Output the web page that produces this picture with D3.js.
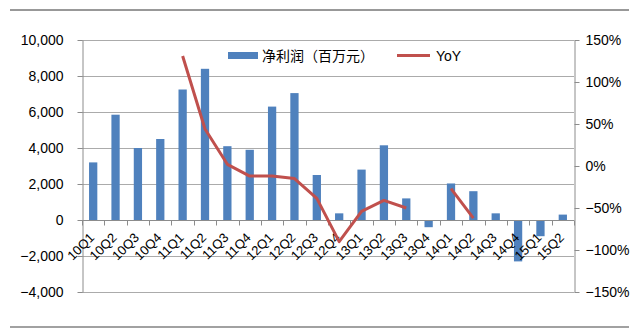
<!DOCTYPE html>
<html>
<head>
<meta charset="utf-8">
<script src="https://cdn.jsdelivr.net/npm/d3@7"></script>
<style>
  html, body { margin: 0; padding: 0; background: #fff; }
  svg { display: block; font-family: "Liberation Sans", Arial, sans-serif; }
</style>
</head>
<body>
<svg id="chart" width="631" height="334"></svg>
<script>
// Quarterly net profit (million yuan) and year-on-year growth
const quarters = ["10Q1","10Q2","10Q3","10Q4","11Q1","11Q2","11Q3","11Q4",
                  "12Q1","12Q2","12Q3","12Q4","13Q1","13Q2","13Q3","13Q4",
                  "14Q1","14Q2","14Q3","14Q4","15Q1","15Q2"];
const netProfit = [3200, 5850, 4000, 4500, 7250, 8400, 4100, 3900,
                   6300, 7050, 2500, 370, 2800, 4150, 1200, -400,
                   2030, 1600, 370, -2300, -900, 300];
const yoy = [null, null, null, null, 1.31, 0.44, 0.02, -0.12,
             -0.12, -0.15, -0.385, -0.90, -0.54, -0.41, -0.50, null,
             -0.27, -0.62, null, null, null, null];
const leftTicks = [-4000, -2000, 0, 2000, 4000, 6000, 8000, 10000];
const rightTicks = [-1.5, -1.0, -0.5, 0, 0.5, 1.0, 1.5];
const legendLabels = ["净利润（百万元）", "YoY"];

const barColor = "#4F81BD";
const lineColor = "#C0504D";
const gridColor = "#ABABAB";
const axisColor = "#8C8C8C";

const svg = d3.select("#chart");
const plot = { left: 82, right: 574, top: 40, bottom: 292 };

const x = d3.scaleBand().domain(quarters)
  .range([plot.left, plot.right]).paddingInner(0.63).paddingOuter(0.315);
const yL = d3.scaleLinear().domain([-4000, 10000]).range([plot.bottom, plot.top]);
const yR = d3.scaleLinear().domain([-1.5, 1.5]).range([plot.bottom, plot.top]);

// frame rules above and below the chart
svg.append("line").attr("x1", 10).attr("x2", 629).attr("y1", 10).attr("y2", 10)
  .attr("stroke", "#333").attr("stroke-width", 1);
svg.append("line").attr("x1", 10).attr("x2", 629).attr("y1", 327).attr("y2", 327)
  .attr("stroke", "#444").attr("stroke-width", 1.2);

// horizontal gridlines
svg.append("g").selectAll("line").data(leftTicks).join("line")
  .attr("x1", plot.left).attr("x2", plot.right)
  .attr("y1", d => Math.round(yL(d)) + 0.5).attr("y2", d => Math.round(yL(d)) + 0.5)
  .attr("stroke", gridColor).attr("stroke-width", 1);

// left axis
const leftAxis = svg.append("g").attr("transform", `translate(${plot.left + 0.5},0)`)
  .call(d3.axisLeft(yL).tickValues(leftTicks).tickFormat(d3.format(",")).tickSizeInner(5).tickSizeOuter(0).tickPadding(14));
leftAxis.select(".domain").attr("stroke", axisColor);
leftAxis.selectAll(".tick line").attr("stroke", axisColor);
leftAxis.selectAll("text").attr("font-size", 14).attr("fill", "#000")
  .attr("font-family", "'Liberation Sans', Arial, sans-serif");

// right axis
const rightAxis = svg.append("g").attr("transform", `translate(${plot.right + 0.5},0)`)
  .call(d3.axisRight(yR).tickValues(rightTicks).tickFormat(d3.format(".0%")).tickSizeInner(5).tickSizeOuter(0).tickPadding(6));
rightAxis.select(".domain").attr("stroke", axisColor);
rightAxis.selectAll(".tick line").attr("stroke", axisColor);
rightAxis.selectAll("text").attr("font-size", 14).attr("fill", "#000")
  .attr("font-family", "'Liberation Sans', Arial, sans-serif");

// bars
svg.append("g").selectAll("rect").data(quarters).join("rect")
  .attr("x", (q) => x(q))
  .attr("width", x.bandwidth())
  .attr("y", (q, i) => yL(Math.max(0, netProfit[i])))
  .attr("height", (q, i) => Math.abs(yL(netProfit[i]) - yL(0)))
  .attr("fill", barColor);

// category axis along zero with ticks between quarters
const zeroY = Math.round(yL(0)) + 0.5;
const xAxisG = svg.append("g");
xAxisG.append("line").attr("x1", plot.left).attr("x2", plot.right)
  .attr("y1", zeroY).attr("y2", zeroY).attr("stroke", axisColor);
const step = x.step();
const boundaries = d3.range(quarters.length + 1).map(i => plot.left + i * step);
xAxisG.selectAll("line.tk").data(boundaries).join("line").attr("class", "tk")
  .attr("x1", d => Math.round(d) + 0.5).attr("x2", d => Math.round(d) + 0.5)
  .attr("y1", zeroY).attr("y2", zeroY + 5).attr("stroke", axisColor);
xAxisG.selectAll("text").data(quarters).join("text")
  .attr("transform", q => `translate(${x(q) + x.bandwidth() / 2 + 2},${zeroY + 18}) rotate(-45)`)
  .attr("text-anchor", "end")
  .attr("font-size", 13)
  .text(q => q);

// YoY line
const line = d3.line()
  .defined(d => d.v !== null)
  .x(d => x(d.q) + x.bandwidth() / 2)
  .y(d => yR(d.v));
svg.append("path")
  .datum(quarters.map((q, i) => ({ q, v: yoy[i] })))
  .attr("d", line)
  .attr("fill", "none").attr("stroke", lineColor).attr("stroke-width", 3)
  .attr("stroke-linejoin", "round");

// legend
const lg = svg.append("g");
lg.append("rect").attr("x", 228).attr("y", 52).attr("width", 30).attr("height", 7).attr("fill", barColor);
lg.append("text").attr("x", 262).attr("y", 61).attr("font-size", 14)
  .attr("font-family", "'Noto Sans CJK SC', sans-serif").text(legendLabels[0]);
lg.append("line").attr("x1", 397).attr("x2", 430).attr("y1", 55.5).attr("y2", 55.5)
  .attr("stroke", lineColor).attr("stroke-width", 3);
lg.append("text").attr("x", 436).attr("y", 61).attr("font-size", 14).text(legendLabels[1]);
</script>
</body>
</html>
